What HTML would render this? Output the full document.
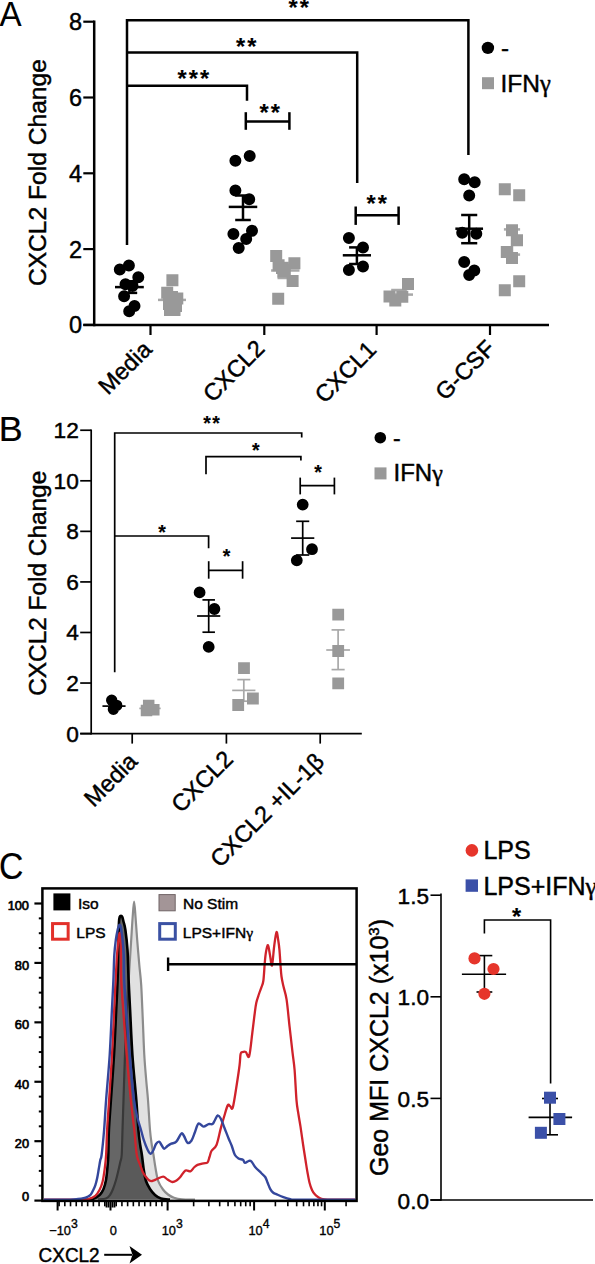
<!DOCTYPE html>
<html><head><meta charset="utf-8"><style>
html,body{margin:0;padding:0;background:#fff;width:595px;height:1264px;overflow:hidden}
svg{display:block}
text{font-family:"Liberation Sans", sans-serif; stroke:currentColor; stroke-width:0.45px}
</style></head><body>
<svg width="595" height="1264" viewBox="0 0 595 1264" font-family="Liberation Sans, sans-serif">
<rect width="595" height="1264" fill="#fff"/>
<text transform="translate(-0.57,25.5) scale(0.96,1)" font-size="34.6" style="stroke-width:0">A</text>
<line x1="94.20" y1="20.45" x2="94.20" y2="326.15" stroke="#000" stroke-width="2.5" stroke-linecap="butt"/>
<line x1="83.30" y1="324.90" x2="94.20" y2="324.90" stroke="#000" stroke-width="2.2" stroke-linecap="butt"/>
<text x="82.00" y="333.30" font-size="23.5" text-anchor="end" fill="#000" >0</text>
<line x1="83.30" y1="249.10" x2="94.20" y2="249.10" stroke="#000" stroke-width="2.2" stroke-linecap="butt"/>
<text x="82.00" y="257.50" font-size="23.5" text-anchor="end" fill="#000" >2</text>
<line x1="83.30" y1="173.30" x2="94.20" y2="173.30" stroke="#000" stroke-width="2.2" stroke-linecap="butt"/>
<text x="82.00" y="181.70" font-size="23.5" text-anchor="end" fill="#000" >4</text>
<line x1="83.30" y1="97.50" x2="94.20" y2="97.50" stroke="#000" stroke-width="2.2" stroke-linecap="butt"/>
<text x="82.00" y="105.90" font-size="23.5" text-anchor="end" fill="#000" >6</text>
<line x1="83.30" y1="21.70" x2="94.20" y2="21.70" stroke="#000" stroke-width="2.2" stroke-linecap="butt"/>
<text x="82.00" y="30.10" font-size="23.5" text-anchor="end" fill="#000" >8</text>
<line x1="83.30" y1="324.90" x2="549.00" y2="324.90" stroke="#000" stroke-width="2.5" stroke-linecap="butt"/>
<line x1="150.50" y1="324.90" x2="150.50" y2="335.00" stroke="#000" stroke-width="2.2" stroke-linecap="butt"/>
<line x1="264.30" y1="324.90" x2="264.30" y2="335.00" stroke="#000" stroke-width="2.2" stroke-linecap="butt"/>
<line x1="376.60" y1="324.90" x2="376.60" y2="335.00" stroke="#000" stroke-width="2.2" stroke-linecap="butt"/>
<line x1="490.00" y1="324.90" x2="490.00" y2="335.00" stroke="#000" stroke-width="2.2" stroke-linecap="butt"/>
<text transform="translate(46.40,172.60) rotate(-90)" font-size="24.6" text-anchor="middle" >CXCL2 Fold Change</text>
<text transform="translate(153.10,350.80) rotate(-45)" font-size="23.4" text-anchor="end" >Media</text>
<text transform="translate(266.00,349.90) rotate(-45)" font-size="23.4" text-anchor="end" >CXCL2</text>
<text transform="translate(377.80,351.00) rotate(-45)" font-size="23.4" text-anchor="end" >CXCL1</text>
<text transform="translate(496.50,350.00) rotate(-45)" font-size="23.4" text-anchor="end" >G-CSF</text>
<polyline points="127.00,245.00 127.00,20.20 468.40,20.20 468.40,155.00" fill="none" stroke="#000" stroke-width="2.5" stroke-linejoin="miter"/>
<polyline points="127.00,52.40 357.20,52.40 357.20,183.00" fill="none" stroke="#000" stroke-width="2.5" stroke-linejoin="miter"/>
<polyline points="127.00,85.70 247.00,85.70 247.00,100.80" fill="none" stroke="#000" stroke-width="2.5" stroke-linejoin="miter"/>
<line x1="245.80" y1="121.50" x2="289.40" y2="121.50" stroke="#000" stroke-width="2.5" stroke-linecap="butt"/>
<line x1="245.80" y1="112.20" x2="245.80" y2="129.80" stroke="#000" stroke-width="2.5" stroke-linecap="butt"/>
<line x1="289.40" y1="112.20" x2="289.40" y2="129.80" stroke="#000" stroke-width="2.5" stroke-linecap="butt"/>
<line x1="355.70" y1="215.30" x2="398.60" y2="215.30" stroke="#000" stroke-width="2.5" stroke-linecap="butt"/>
<line x1="355.70" y1="206.50" x2="355.70" y2="224.90" stroke="#000" stroke-width="2.5" stroke-linecap="butt"/>
<line x1="398.60" y1="206.50" x2="398.60" y2="224.90" stroke="#000" stroke-width="2.5" stroke-linecap="butt"/>
<text x="299.75" y="15.60" font-size="23.5" font-weight="bold" text-anchor="middle" letter-spacing="2.1" style="stroke-width:0.15px">**</text>
<text x="247.35" y="54.90" font-size="23.5" font-weight="bold" text-anchor="middle" letter-spacing="2.1" style="stroke-width:0.15px">**</text>
<text x="194.45" y="87.10" font-size="23.5" font-weight="bold" text-anchor="middle" letter-spacing="2.1" style="stroke-width:0.15px">***</text>
<text x="270.75" y="121.00" font-size="23.5" font-weight="bold" text-anchor="middle" letter-spacing="2.1" style="stroke-width:0.15px">**</text>
<text x="377.65" y="212.30" font-size="23.5" font-weight="bold" text-anchor="middle" letter-spacing="2.1" style="stroke-width:0.15px">**</text>
<line x1="129.40" y1="281.30" x2="129.40" y2="292.90" stroke="#000" stroke-width="2.5" stroke-linecap="butt"/>
<line x1="121.60" y1="281.30" x2="137.20" y2="281.30" stroke="#000" stroke-width="2.5" stroke-linecap="butt"/>
<line x1="121.60" y1="292.90" x2="137.20" y2="292.90" stroke="#000" stroke-width="2.5" stroke-linecap="butt"/>
<line x1="115.00" y1="287.10" x2="143.80" y2="287.10" stroke="#000" stroke-width="2.5" stroke-linecap="butt"/>
<path d="M113.80,269.40a6,6 0 1,0 12,0a6,6 0 1,0 -12,0ZM122.90,265.40a6,6 0 1,0 12,0a6,6 0 1,0 -12,0ZM132.30,277.20a6,6 0 1,0 12,0a6,6 0 1,0 -12,0ZM119.50,284.20a6,6 0 1,0 12,0a6,6 0 1,0 -12,0ZM126.50,286.00a6,6 0 1,0 12,0a6,6 0 1,0 -12,0ZM118.10,296.30a6,6 0 1,0 12,0a6,6 0 1,0 -12,0ZM128.50,306.00a6,6 0 1,0 12,0a6,6 0 1,0 -12,0ZM123.20,311.30a6,6 0 1,0 12,0a6,6 0 1,0 -12,0Z" fill="#000"/>
<line x1="172.00" y1="294.30" x2="172.00" y2="305.50" stroke="#a8a8a8" stroke-width="2.5" stroke-linecap="butt"/>
<line x1="164.20" y1="294.30" x2="179.80" y2="294.30" stroke="#a8a8a8" stroke-width="2.5" stroke-linecap="butt"/>
<line x1="164.20" y1="305.50" x2="179.80" y2="305.50" stroke="#a8a8a8" stroke-width="2.5" stroke-linecap="butt"/>
<line x1="158.00" y1="299.90" x2="186.00" y2="299.90" stroke="#a8a8a8" stroke-width="2.5" stroke-linecap="butt"/>
<path d="M166.40,274.30h12v12h-12ZM161.20,286.70h12v12h-12ZM171.30,292.60h12v12h-12ZM166.00,291.00h12v12h-12ZM163.00,298.00h12v12h-12ZM170.00,300.00h12v12h-12ZM164.00,304.00h12v12h-12ZM168.50,304.00h12v12h-12Z" fill="#999"/>
<line x1="243.00" y1="195.50" x2="243.00" y2="220.00" stroke="#000" stroke-width="2.5" stroke-linecap="butt"/>
<line x1="235.20" y1="195.50" x2="250.80" y2="195.50" stroke="#000" stroke-width="2.5" stroke-linecap="butt"/>
<line x1="235.20" y1="220.00" x2="250.80" y2="220.00" stroke="#000" stroke-width="2.5" stroke-linecap="butt"/>
<line x1="228.75" y1="206.90" x2="257.25" y2="206.90" stroke="#000" stroke-width="2.5" stroke-linecap="butt"/>
<path d="M229.40,160.80a6,6 0 1,0 12,0a6,6 0 1,0 -12,0ZM243.70,156.00a6,6 0 1,0 12,0a6,6 0 1,0 -12,0ZM229.40,190.50a6,6 0 1,0 12,0a6,6 0 1,0 -12,0ZM243.20,199.30a6,6 0 1,0 12,0a6,6 0 1,0 -12,0ZM227.40,233.90a6,6 0 1,0 12,0a6,6 0 1,0 -12,0ZM246.00,230.80a6,6 0 1,0 12,0a6,6 0 1,0 -12,0ZM240.20,238.90a6,6 0 1,0 12,0a6,6 0 1,0 -12,0ZM232.70,248.00a6,6 0 1,0 12,0a6,6 0 1,0 -12,0Z" fill="#000"/>
<line x1="285.30" y1="263.00" x2="285.30" y2="278.00" stroke="#a8a8a8" stroke-width="2.5" stroke-linecap="butt"/>
<line x1="277.50" y1="263.00" x2="293.10" y2="263.00" stroke="#a8a8a8" stroke-width="2.5" stroke-linecap="butt"/>
<line x1="277.50" y1="278.00" x2="293.10" y2="278.00" stroke="#a8a8a8" stroke-width="2.5" stroke-linecap="butt"/>
<line x1="271.10" y1="270.50" x2="299.50" y2="270.50" stroke="#a8a8a8" stroke-width="2.5" stroke-linecap="butt"/>
<path d="M270.20,249.90h12v12h-12ZM288.40,257.20h12v12h-12ZM272.60,259.20h12v12h-12ZM277.30,265.50h12v12h-12ZM286.60,275.10h12v12h-12ZM272.20,292.70h12v12h-12ZM278.80,264.00h12v12h-12ZM276.00,262.00h12v12h-12Z" fill="#999"/>
<line x1="356.90" y1="247.40" x2="356.90" y2="264.00" stroke="#000" stroke-width="2.5" stroke-linecap="butt"/>
<line x1="349.10" y1="247.40" x2="364.70" y2="247.40" stroke="#000" stroke-width="2.5" stroke-linecap="butt"/>
<line x1="349.10" y1="264.00" x2="364.70" y2="264.00" stroke="#000" stroke-width="2.5" stroke-linecap="butt"/>
<line x1="342.80" y1="255.30" x2="371.00" y2="255.30" stroke="#000" stroke-width="2.5" stroke-linecap="butt"/>
<path d="M342.90,237.90a6,6 0 1,0 12,0a6,6 0 1,0 -12,0ZM357.00,247.40a6,6 0 1,0 12,0a6,6 0 1,0 -12,0ZM342.90,270.10a6,6 0 1,0 12,0a6,6 0 1,0 -12,0ZM357.00,266.60a6,6 0 1,0 12,0a6,6 0 1,0 -12,0Z" fill="#000"/>
<line x1="399.00" y1="290.00" x2="399.00" y2="299.00" stroke="#a8a8a8" stroke-width="2.5" stroke-linecap="butt"/>
<line x1="391.20" y1="290.00" x2="406.80" y2="290.00" stroke="#a8a8a8" stroke-width="2.5" stroke-linecap="butt"/>
<line x1="391.20" y1="299.00" x2="406.80" y2="299.00" stroke="#a8a8a8" stroke-width="2.5" stroke-linecap="butt"/>
<line x1="385.00" y1="294.60" x2="413.00" y2="294.60" stroke="#a8a8a8" stroke-width="2.5" stroke-linecap="butt"/>
<path d="M402.00,278.10h12v12h-12ZM383.50,290.50h12v12h-12ZM389.30,294.50h12v12h-12ZM396.30,290.80h12v12h-12Z" fill="#999"/>
<line x1="469.20" y1="215.00" x2="469.20" y2="243.20" stroke="#000" stroke-width="2.5" stroke-linecap="butt"/>
<line x1="461.15" y1="215.00" x2="477.25" y2="215.00" stroke="#000" stroke-width="2.5" stroke-linecap="butt"/>
<line x1="461.15" y1="243.20" x2="477.25" y2="243.20" stroke="#000" stroke-width="2.5" stroke-linecap="butt"/>
<line x1="455.35" y1="228.70" x2="483.05" y2="228.70" stroke="#000" stroke-width="2.5" stroke-linecap="butt"/>
<path d="M458.20,179.20a6,6 0 1,0 12,0a6,6 0 1,0 -12,0ZM468.70,182.30a6,6 0 1,0 12,0a6,6 0 1,0 -12,0ZM463.20,195.40a6,6 0 1,0 12,0a6,6 0 1,0 -12,0ZM456.20,232.70a6,6 0 1,0 12,0a6,6 0 1,0 -12,0ZM470.30,233.70a6,6 0 1,0 12,0a6,6 0 1,0 -12,0ZM458.20,262.00a6,6 0 1,0 12,0a6,6 0 1,0 -12,0ZM468.30,270.60a6,6 0 1,0 12,0a6,6 0 1,0 -12,0ZM463.20,275.00a6,6 0 1,0 12,0a6,6 0 1,0 -12,0Z" fill="#000"/>
<line x1="512.00" y1="229.40" x2="512.00" y2="254.60" stroke="#a8a8a8" stroke-width="2.5" stroke-linecap="butt"/>
<line x1="503.90" y1="229.40" x2="520.10" y2="229.40" stroke="#a8a8a8" stroke-width="2.5" stroke-linecap="butt"/>
<line x1="503.90" y1="254.60" x2="520.10" y2="254.60" stroke="#a8a8a8" stroke-width="2.5" stroke-linecap="butt"/>
<path d="M498.80,183.30h12v12h-12ZM513.20,189.30h12v12h-12ZM506.00,224.20h12v12h-12ZM511.00,234.30h12v12h-12ZM500.80,246.00h12v12h-12ZM506.00,252.10h12v12h-12ZM513.20,275.30h12v12h-12ZM498.80,284.20h12v12h-12Z" fill="#999"/>
<circle cx="487.90" cy="47.90" r="6.2" fill="#000"/>
<text x="501.00" y="56.00" font-size="24" text-anchor="start" fill="#000" >-</text>
<rect x="482.00" y="77.20" width="12" height="12" fill="#999"/>
<text x="500.50" y="92.00" font-size="24.5" text-anchor="start" fill="#000" >IFN<tspan font-family="Liberation Serif">γ</tspan></text>
<text transform="translate(-1.2,441.1) scale(1.01,1)" font-size="35.5" style="stroke-width:0.2px">B</text>
<line x1="91.20" y1="429.44" x2="91.20" y2="734.40" stroke="#000" stroke-width="1.7" stroke-linecap="butt"/>
<line x1="80.20" y1="733.60" x2="91.20" y2="733.60" stroke="#000" stroke-width="1.7" stroke-linecap="butt"/>
<text x="78.80" y="741.50" font-size="22.7" text-anchor="end" fill="#000" >0</text>
<line x1="80.20" y1="683.04" x2="91.20" y2="683.04" stroke="#000" stroke-width="1.7" stroke-linecap="butt"/>
<text x="78.80" y="690.94" font-size="22.7" text-anchor="end" fill="#000" >2</text>
<line x1="80.20" y1="632.48" x2="91.20" y2="632.48" stroke="#000" stroke-width="1.7" stroke-linecap="butt"/>
<text x="78.80" y="640.38" font-size="22.7" text-anchor="end" fill="#000" >4</text>
<line x1="80.20" y1="581.92" x2="91.20" y2="581.92" stroke="#000" stroke-width="1.7" stroke-linecap="butt"/>
<text x="78.80" y="589.82" font-size="22.7" text-anchor="end" fill="#000" >6</text>
<line x1="80.20" y1="531.36" x2="91.20" y2="531.36" stroke="#000" stroke-width="1.7" stroke-linecap="butt"/>
<text x="78.80" y="539.26" font-size="22.7" text-anchor="end" fill="#000" >8</text>
<line x1="80.20" y1="480.80" x2="91.20" y2="480.80" stroke="#000" stroke-width="1.7" stroke-linecap="butt"/>
<text x="78.80" y="488.70" font-size="22.7" text-anchor="end" fill="#000" >10</text>
<line x1="80.20" y1="430.24" x2="91.20" y2="430.24" stroke="#000" stroke-width="1.7" stroke-linecap="butt"/>
<text x="78.80" y="438.14" font-size="22.7" text-anchor="end" fill="#000" >12</text>
<line x1="80.20" y1="733.60" x2="361.80" y2="733.60" stroke="#000" stroke-width="1.7" stroke-linecap="butt"/>
<line x1="132.20" y1="733.60" x2="132.20" y2="743.60" stroke="#000" stroke-width="1.7" stroke-linecap="butt"/>
<line x1="226.40" y1="733.60" x2="226.40" y2="743.60" stroke="#000" stroke-width="1.7" stroke-linecap="butt"/>
<line x1="320.20" y1="733.60" x2="320.20" y2="743.60" stroke="#000" stroke-width="1.7" stroke-linecap="butt"/>
<text transform="translate(45.80,583.30) rotate(-90)" font-size="24.4" text-anchor="middle" >CXCL2 Fold Change</text>
<text transform="translate(138.80,762.90) rotate(-45)" font-size="23.4" text-anchor="end" >Media</text>
<text transform="translate(234.40,760.50) rotate(-45)" font-size="23.4" text-anchor="end" >CXCL2</text>
<text transform="translate(325.50,763.00) rotate(-45)" font-size="23.4" text-anchor="end" >CXCL2 +IL-1β</text>
<polyline points="114.70,672.30 114.70,433.00 301.70,433.00 301.70,437.50" fill="none" stroke="#000" stroke-width="1.7" stroke-linejoin="miter"/>
<polyline points="206.00,474.30 206.00,456.60 300.90,456.60 300.90,460.50" fill="none" stroke="#000" stroke-width="1.7" stroke-linejoin="miter"/>
<polyline points="114.70,536.00 208.60,536.00 208.60,548.30" fill="none" stroke="#000" stroke-width="1.7" stroke-linejoin="miter"/>
<line x1="300.20" y1="485.60" x2="334.40" y2="485.60" stroke="#000" stroke-width="1.7" stroke-linecap="butt"/>
<line x1="300.20" y1="477.60" x2="300.20" y2="494.40" stroke="#000" stroke-width="1.7" stroke-linecap="butt"/>
<line x1="334.40" y1="477.60" x2="334.40" y2="494.40" stroke="#000" stroke-width="1.7" stroke-linecap="butt"/>
<line x1="208.70" y1="570.30" x2="242.60" y2="570.30" stroke="#000" stroke-width="1.7" stroke-linecap="butt"/>
<line x1="208.70" y1="561.20" x2="208.70" y2="578.70" stroke="#000" stroke-width="1.7" stroke-linecap="butt"/>
<line x1="242.60" y1="561.20" x2="242.60" y2="578.70" stroke="#000" stroke-width="1.7" stroke-linecap="butt"/>
<text x="212.25" y="429.89" font-size="19.5" font-weight="bold" text-anchor="middle" letter-spacing="1.5" style="stroke-width:0.15px">**</text>
<text x="255.90" y="456.79" font-size="19.5" font-weight="bold" text-anchor="middle" letter-spacing="0" style="stroke-width:0.15px">*</text>
<text x="318.00" y="478.59" font-size="19.5" font-weight="bold" text-anchor="middle" letter-spacing="0" style="stroke-width:0.15px">*</text>
<text x="162.00" y="539.09" font-size="19.5" font-weight="bold" text-anchor="middle" letter-spacing="0" style="stroke-width:0.15px">*</text>
<text x="226.50" y="562.69" font-size="19.5" font-weight="bold" text-anchor="middle" letter-spacing="0" style="stroke-width:0.15px">*</text>
<line x1="114.00" y1="704.00" x2="114.00" y2="708.00" stroke="#000" stroke-width="1.7" stroke-linecap="butt"/>
<line x1="108.00" y1="704.00" x2="120.00" y2="704.00" stroke="#000" stroke-width="1.7" stroke-linecap="butt"/>
<line x1="108.00" y1="708.00" x2="120.00" y2="708.00" stroke="#000" stroke-width="1.7" stroke-linecap="butt"/>
<line x1="102.45" y1="706.10" x2="125.55" y2="706.10" stroke="#000" stroke-width="1.7" stroke-linecap="butt"/>
<path d="M106.00,700.30a5.7,5.7 0 1,0 11.4,0a5.7,5.7 0 1,0 -11.4,0ZM111.00,705.40a5.7,5.7 0 1,0 11.4,0a5.7,5.7 0 1,0 -11.4,0ZM107.70,709.20a5.7,5.7 0 1,0 11.4,0a5.7,5.7 0 1,0 -11.4,0Z" fill="#000"/>
<line x1="150.00" y1="706.00" x2="150.00" y2="711.00" stroke="#a8a8a8" stroke-width="1.7" stroke-linecap="butt"/>
<line x1="144.00" y1="706.00" x2="156.00" y2="706.00" stroke="#a8a8a8" stroke-width="1.7" stroke-linecap="butt"/>
<line x1="144.00" y1="711.00" x2="156.00" y2="711.00" stroke="#a8a8a8" stroke-width="1.7" stroke-linecap="butt"/>
<line x1="139.30" y1="708.40" x2="160.70" y2="708.40" stroke="#a8a8a8" stroke-width="1.7" stroke-linecap="butt"/>
<path d="M142.95,699.65h11.5v11.5h-11.5ZM148.05,703.95h11.5v11.5h-11.5ZM140.75,704.65h11.5v11.5h-11.5Z" fill="#999"/>
<line x1="208.70" y1="599.90" x2="208.70" y2="632.20" stroke="#000" stroke-width="1.7" stroke-linecap="butt"/>
<line x1="202.45" y1="599.90" x2="214.95" y2="599.90" stroke="#000" stroke-width="1.7" stroke-linecap="butt"/>
<line x1="202.45" y1="632.20" x2="214.95" y2="632.20" stroke="#000" stroke-width="1.7" stroke-linecap="butt"/>
<line x1="197.10" y1="616.00" x2="220.30" y2="616.00" stroke="#000" stroke-width="1.7" stroke-linecap="butt"/>
<path d="M193.70,592.40a5.9,5.9 0 1,0 11.8,0a5.9,5.9 0 1,0 -11.8,0ZM208.50,609.00a5.9,5.9 0 1,0 11.8,0a5.9,5.9 0 1,0 -11.8,0ZM202.80,646.90a5.9,5.9 0 1,0 11.8,0a5.9,5.9 0 1,0 -11.8,0Z" fill="#000"/>
<line x1="243.80" y1="679.60" x2="243.80" y2="701.20" stroke="#a8a8a8" stroke-width="1.7" stroke-linecap="butt"/>
<line x1="237.30" y1="679.60" x2="250.30" y2="679.60" stroke="#a8a8a8" stroke-width="1.7" stroke-linecap="butt"/>
<line x1="237.30" y1="701.20" x2="250.30" y2="701.20" stroke="#a8a8a8" stroke-width="1.7" stroke-linecap="butt"/>
<line x1="232.20" y1="690.40" x2="255.40" y2="690.40" stroke="#a8a8a8" stroke-width="1.7" stroke-linecap="butt"/>
<path d="M238.10,662.30h11.8v11.8h-11.8ZM247.00,692.60h11.8v11.8h-11.8ZM232.30,699.10h11.8v11.8h-11.8Z" fill="#999"/>
<line x1="302.70" y1="521.30" x2="302.70" y2="555.00" stroke="#000" stroke-width="1.7" stroke-linecap="butt"/>
<line x1="296.15" y1="521.30" x2="309.25" y2="521.30" stroke="#000" stroke-width="1.7" stroke-linecap="butt"/>
<line x1="296.15" y1="555.00" x2="309.25" y2="555.00" stroke="#000" stroke-width="1.7" stroke-linecap="butt"/>
<line x1="291.10" y1="538.10" x2="314.30" y2="538.10" stroke="#000" stroke-width="1.7" stroke-linecap="butt"/>
<path d="M296.80,504.60a5.9,5.9 0 1,0 11.8,0a5.9,5.9 0 1,0 -11.8,0ZM306.10,549.20a5.9,5.9 0 1,0 11.8,0a5.9,5.9 0 1,0 -11.8,0ZM290.90,560.30a5.9,5.9 0 1,0 11.8,0a5.9,5.9 0 1,0 -11.8,0Z" fill="#000"/>
<line x1="338.10" y1="629.90" x2="338.10" y2="669.60" stroke="#a8a8a8" stroke-width="1.7" stroke-linecap="butt"/>
<line x1="331.55" y1="629.90" x2="344.65" y2="629.90" stroke="#a8a8a8" stroke-width="1.7" stroke-linecap="butt"/>
<line x1="331.55" y1="669.60" x2="344.65" y2="669.60" stroke="#a8a8a8" stroke-width="1.7" stroke-linecap="butt"/>
<line x1="326.25" y1="650.00" x2="349.95" y2="650.00" stroke="#a8a8a8" stroke-width="1.7" stroke-linecap="butt"/>
<path d="M332.30,608.80h11.8v11.8h-11.8ZM332.30,645.10h11.8v11.8h-11.8ZM332.30,677.40h11.8v11.8h-11.8Z" fill="#999"/>
<circle cx="380.30" cy="437.70" r="5.8" fill="#000"/>
<text x="393.00" y="446.00" font-size="23" text-anchor="start" fill="#000" >-</text>
<rect x="374.50" y="467.40" width="12" height="12" fill="#999"/>
<text x="393.50" y="481.30" font-size="24" text-anchor="start" fill="#000" >IFN<tspan font-family="Liberation Serif">γ</tspan></text>
<text transform="translate(-0.92,879.2) scale(0.913,1)" font-size="37" style="stroke-width:0.2px">C</text>
<path d="M98.00,1199.60 C99.33,1199.42 104.00,1199.27 106.00,1198.50 C108.00,1197.73 108.83,1196.58 110.00,1195.00 C111.17,1193.42 112.00,1191.50 113.00,1189.00 C114.00,1186.50 115.08,1183.17 116.00,1180.00 C116.92,1176.83 117.78,1173.00 118.50,1170.00 C119.22,1167.00 119.77,1164.50 120.30,1162.00 C120.83,1159.50 121.33,1160.33 121.70,1155.00 C122.07,1149.67 122.20,1139.17 122.50,1130.00 C122.80,1120.83 123.12,1111.67 123.50,1100.00 C123.88,1088.33 124.33,1073.33 124.80,1060.00 C125.27,1046.67 125.77,1031.67 126.30,1020.00 C126.83,1008.33 127.45,999.17 128.00,990.00 C128.55,980.83 129.07,973.33 129.60,965.00 C130.13,956.67 130.70,947.83 131.20,940.00 C131.70,932.17 132.12,924.42 132.60,918.00 C133.08,911.58 133.60,901.50 134.10,901.50 C134.60,901.50 135.08,911.58 135.60,918.00 C136.12,924.42 136.58,932.17 137.20,940.00 C137.82,947.83 138.63,957.50 139.30,965.00 C139.97,972.50 140.62,975.83 141.20,985.00 C141.78,994.17 142.28,1008.33 142.80,1020.00 C143.32,1031.67 143.73,1045.00 144.30,1055.00 C144.87,1065.00 145.58,1072.50 146.20,1080.00 C146.82,1087.50 147.37,1091.67 148.00,1100.00 C148.63,1108.33 149.37,1122.50 150.00,1130.00 C150.63,1137.50 151.22,1140.83 151.80,1145.00 C152.38,1149.17 152.88,1151.17 153.50,1155.00 C154.12,1158.83 154.72,1163.67 155.50,1168.00 C156.28,1172.33 156.95,1177.42 158.20,1181.00 C159.45,1184.58 161.37,1187.25 163.00,1189.50 C164.63,1191.75 166.17,1193.12 168.00,1194.50 C169.83,1195.88 171.67,1196.98 174.00,1197.80 C176.33,1198.62 178.50,1199.10 182.00,1199.40 C185.50,1199.70 192.83,1199.57 195.00,1199.60 Z" fill="#e1e1e1" stroke="none"/>
<path d="M98.00,1199.60 C99.33,1199.42 104.00,1199.27 106.00,1198.50 C108.00,1197.73 108.83,1196.58 110.00,1195.00 C111.17,1193.42 112.00,1191.50 113.00,1189.00 C114.00,1186.50 115.08,1183.17 116.00,1180.00 C116.92,1176.83 117.78,1173.00 118.50,1170.00 C119.22,1167.00 119.77,1164.50 120.30,1162.00 C120.83,1159.50 121.33,1160.33 121.70,1155.00 C122.07,1149.67 122.20,1139.17 122.50,1130.00 C122.80,1120.83 123.12,1111.67 123.50,1100.00 C123.88,1088.33 124.33,1073.33 124.80,1060.00 C125.27,1046.67 125.77,1031.67 126.30,1020.00 C126.83,1008.33 127.45,999.17 128.00,990.00 C128.55,980.83 129.07,973.33 129.60,965.00 C130.13,956.67 130.70,947.83 131.20,940.00 C131.70,932.17 132.12,924.42 132.60,918.00 C133.08,911.58 133.60,901.50 134.10,901.50 C134.60,901.50 135.08,911.58 135.60,918.00 C136.12,924.42 136.58,932.17 137.20,940.00 C137.82,947.83 138.63,957.50 139.30,965.00 C139.97,972.50 140.62,975.83 141.20,985.00 C141.78,994.17 142.28,1008.33 142.80,1020.00 C143.32,1031.67 143.73,1045.00 144.30,1055.00 C144.87,1065.00 145.58,1072.50 146.20,1080.00 C146.82,1087.50 147.37,1091.67 148.00,1100.00 C148.63,1108.33 149.37,1122.50 150.00,1130.00 C150.63,1137.50 151.22,1140.83 151.80,1145.00 C152.38,1149.17 152.88,1151.17 153.50,1155.00 C154.12,1158.83 154.72,1163.67 155.50,1168.00 C156.28,1172.33 156.95,1177.42 158.20,1181.00 C159.45,1184.58 161.37,1187.25 163.00,1189.50 C164.63,1191.75 166.17,1193.12 168.00,1194.50 C169.83,1195.88 171.67,1196.98 174.00,1197.80 C176.33,1198.62 178.50,1199.10 182.00,1199.40 C185.50,1199.70 192.83,1199.57 195.00,1199.60" fill="none" stroke="#8c8c8c" stroke-width="2.2"/>
<path d="M84.00,1199.60 C85.00,1199.60 88.00,1199.95 90.00,1199.60 C92.00,1199.25 94.33,1198.32 96.00,1197.50 C97.67,1196.68 98.75,1196.12 100.00,1194.70 C101.25,1193.28 102.52,1191.35 103.50,1189.00 C104.48,1186.65 105.25,1184.10 105.90,1180.60 C106.55,1177.10 107.00,1172.27 107.40,1168.00 C107.80,1163.73 108.05,1161.33 108.30,1155.00 C108.55,1148.67 108.47,1139.17 108.90,1130.00 C109.33,1120.83 110.05,1112.50 110.90,1100.00 C111.75,1087.50 113.12,1070.00 114.00,1055.00 C114.88,1040.00 115.60,1022.50 116.20,1010.00 C116.80,997.50 117.27,989.17 117.60,980.00 C117.93,970.83 118.03,962.50 118.20,955.00 C118.37,947.50 118.47,940.50 118.60,935.00 C118.73,929.50 118.82,925.00 119.00,922.00 C119.18,919.00 119.37,918.03 119.70,917.00 C120.03,915.97 120.57,915.80 121.00,915.80 C121.43,915.80 121.87,915.97 122.30,917.00 C122.73,918.03 123.08,919.83 123.60,922.00 C124.12,924.17 124.75,925.33 125.40,930.00 C126.05,934.67 126.97,941.67 127.50,950.00 C128.03,958.33 128.17,970.00 128.60,980.00 C129.03,990.00 129.47,997.50 130.10,1010.00 C130.73,1022.50 131.37,1040.00 132.40,1055.00 C133.43,1070.00 135.30,1087.50 136.30,1100.00 C137.30,1112.50 137.75,1122.50 138.40,1130.00 C139.05,1137.50 139.62,1140.83 140.20,1145.00 C140.78,1149.17 141.30,1150.83 141.90,1155.00 C142.50,1159.17 143.12,1165.67 143.80,1170.00 C144.48,1174.33 144.97,1177.83 146.00,1181.00 C147.03,1184.17 148.50,1186.67 150.00,1189.00 C151.50,1191.33 153.17,1193.40 155.00,1195.00 C156.83,1196.60 158.50,1197.83 161.00,1198.60 C163.50,1199.37 168.50,1199.43 170.00,1199.60 Z" fill="rgba(0,0,0,0.6)" stroke="none"/>
<path d="M84.00,1199.60 C85.00,1199.60 88.00,1199.95 90.00,1199.60 C92.00,1199.25 94.33,1198.32 96.00,1197.50 C97.67,1196.68 98.75,1196.12 100.00,1194.70 C101.25,1193.28 102.52,1191.35 103.50,1189.00 C104.48,1186.65 105.25,1184.10 105.90,1180.60 C106.55,1177.10 107.00,1172.27 107.40,1168.00 C107.80,1163.73 108.05,1161.33 108.30,1155.00 C108.55,1148.67 108.47,1139.17 108.90,1130.00 C109.33,1120.83 110.05,1112.50 110.90,1100.00 C111.75,1087.50 113.12,1070.00 114.00,1055.00 C114.88,1040.00 115.60,1022.50 116.20,1010.00 C116.80,997.50 117.27,989.17 117.60,980.00 C117.93,970.83 118.03,962.50 118.20,955.00 C118.37,947.50 118.47,940.50 118.60,935.00 C118.73,929.50 118.82,925.00 119.00,922.00 C119.18,919.00 119.37,918.03 119.70,917.00 C120.03,915.97 120.57,915.80 121.00,915.80 C121.43,915.80 121.87,915.97 122.30,917.00 C122.73,918.03 123.08,919.83 123.60,922.00 C124.12,924.17 124.75,925.33 125.40,930.00 C126.05,934.67 126.97,941.67 127.50,950.00 C128.03,958.33 128.17,970.00 128.60,980.00 C129.03,990.00 129.47,997.50 130.10,1010.00 C130.73,1022.50 131.37,1040.00 132.40,1055.00 C133.43,1070.00 135.30,1087.50 136.30,1100.00 C137.30,1112.50 137.75,1122.50 138.40,1130.00 C139.05,1137.50 139.62,1140.83 140.20,1145.00 C140.78,1149.17 141.30,1150.83 141.90,1155.00 C142.50,1159.17 143.12,1165.67 143.80,1170.00 C144.48,1174.33 144.97,1177.83 146.00,1181.00 C147.03,1184.17 148.50,1186.67 150.00,1189.00 C151.50,1191.33 153.17,1193.40 155.00,1195.00 C156.83,1196.60 158.50,1197.83 161.00,1198.60 C163.50,1199.37 168.50,1199.43 170.00,1199.60" fill="none" stroke="#000" stroke-width="2.6"/>
<path d="M44.00,1199.60 C50.00,1199.60 72.67,1199.67 80.00,1199.60 C87.33,1199.53 85.45,1199.82 88.00,1199.20 C90.55,1198.58 93.38,1197.43 95.30,1195.90 C97.22,1194.37 98.30,1192.32 99.50,1190.00 C100.70,1187.68 101.63,1185.53 102.50,1182.00 C103.37,1178.47 104.10,1173.30 104.70,1168.80 C105.30,1164.30 105.70,1161.47 106.10,1155.00 C106.50,1148.53 106.60,1139.17 107.10,1130.00 C107.60,1120.83 108.28,1112.50 109.10,1100.00 C109.92,1087.50 111.15,1070.00 112.00,1055.00 C112.85,1040.00 113.60,1022.50 114.20,1010.00 C114.80,997.50 115.17,988.67 115.60,980.00 C116.03,971.33 116.42,963.83 116.80,958.00 C117.18,952.17 117.57,948.50 117.90,945.00 C118.23,941.50 118.53,939.00 118.80,937.00 C119.07,935.00 119.27,933.17 119.50,933.00 C119.73,932.83 120.00,934.00 120.20,936.00 C120.40,938.00 120.57,941.33 120.70,945.00 C120.83,948.67 120.92,952.17 121.00,958.00 C121.08,963.83 120.83,971.33 121.20,980.00 C121.57,988.67 122.28,997.50 123.20,1010.00 C124.12,1022.50 125.43,1040.00 126.70,1055.00 C127.97,1070.00 129.53,1087.50 130.80,1100.00 C132.07,1112.50 133.30,1120.83 134.30,1130.00 C135.30,1139.17 135.85,1149.25 136.80,1155.00 C137.75,1160.75 138.97,1161.58 140.00,1164.50 C141.03,1167.42 142.00,1170.42 143.00,1172.50 C144.00,1174.58 145.00,1175.72 146.00,1177.00 C147.00,1178.28 147.98,1179.53 149.00,1180.20 C150.02,1180.87 150.75,1181.20 152.10,1181.00 C153.45,1180.80 155.25,1179.73 157.10,1179.00 C158.95,1178.27 161.47,1176.52 163.20,1176.60 C164.93,1176.68 165.98,1178.60 167.50,1179.50 C169.02,1180.40 170.80,1181.83 172.30,1182.00 C173.80,1182.17 175.17,1181.33 176.50,1180.50 C177.83,1179.67 178.82,1178.67 180.30,1177.00 C181.78,1175.33 183.72,1171.45 185.40,1170.50 C187.08,1169.55 188.97,1171.80 190.40,1171.30 C191.83,1170.80 192.82,1168.57 194.00,1167.50 C195.18,1166.43 195.92,1165.60 197.50,1164.90 C199.08,1164.20 201.83,1163.70 203.50,1163.30 C205.17,1162.90 206.50,1163.55 207.50,1162.50 C208.50,1161.45 208.82,1158.95 209.50,1157.00 C210.18,1155.05 210.42,1152.85 211.60,1150.80 C212.78,1148.75 215.08,1148.40 216.60,1144.70 C218.12,1141.00 219.47,1133.22 220.70,1128.60 C221.93,1123.98 222.83,1120.87 224.00,1117.00 C225.17,1113.13 226.70,1107.23 227.70,1105.40 C228.70,1103.57 229.15,1105.67 230.00,1106.00 C230.85,1106.33 231.67,1111.03 232.80,1107.40 C233.93,1103.77 235.67,1091.27 236.80,1084.20 C237.93,1077.13 238.97,1070.03 239.60,1065.00 C240.23,1059.97 240.12,1056.15 240.60,1054.00 C241.08,1051.85 241.63,1052.42 242.50,1052.10 C243.37,1051.78 244.68,1051.43 245.80,1052.10 C246.92,1052.77 248.12,1059.28 249.20,1056.10 C250.28,1052.92 251.42,1039.85 252.30,1033.00 C253.18,1026.15 253.83,1020.05 254.50,1015.00 C255.17,1009.95 255.55,1006.20 256.30,1002.70 C257.05,999.20 258.17,996.52 259.00,994.00 C259.83,991.48 260.57,989.85 261.30,987.60 C262.03,985.35 262.82,984.70 263.40,980.50 C263.98,976.30 264.37,967.15 264.80,962.40 C265.23,957.65 265.47,954.87 266.00,952.00 C266.53,949.13 267.33,944.70 268.00,945.20 C268.67,945.70 269.33,951.63 270.00,955.00 C270.67,958.37 271.30,966.90 272.00,965.40 C272.70,963.90 273.45,951.55 274.20,946.00 C274.95,940.45 275.83,933.10 276.50,932.10 C277.17,931.10 277.70,936.97 278.20,940.00 C278.70,943.03 279.12,946.13 279.50,950.30 C279.88,954.47 280.17,960.63 280.50,965.00 C280.83,969.37 281.00,972.90 281.50,976.50 C282.00,980.10 282.65,982.73 283.50,986.60 C284.35,990.47 285.58,992.98 286.60,999.70 C287.62,1006.42 288.60,1018.00 289.60,1026.90 C290.60,1035.80 291.77,1045.92 292.60,1053.10 C293.43,1060.28 293.95,1062.13 294.60,1070.00 C295.25,1077.87 295.87,1092.97 296.50,1100.30 C297.13,1107.63 297.73,1109.62 298.40,1114.00 C299.07,1118.38 299.73,1121.60 300.50,1126.60 C301.27,1131.60 302.15,1138.30 303.00,1144.00 C303.85,1149.70 304.83,1155.97 305.60,1160.80 C306.37,1165.63 306.93,1169.30 307.60,1173.00 C308.27,1176.70 308.87,1180.17 309.60,1183.00 C310.33,1185.83 311.17,1188.15 312.00,1190.00 C312.83,1191.85 313.60,1192.93 314.60,1194.10 C315.60,1195.27 316.65,1196.15 318.00,1197.00 C319.35,1197.85 320.70,1198.77 322.70,1199.20 C324.70,1199.63 324.62,1199.53 330.00,1199.60 C335.38,1199.67 350.83,1199.60 355.00,1199.60" fill="none" stroke="#d0222b" stroke-width="2.3" stroke-linejoin="round"/>
<path d="M44.00,1199.60 C48.33,1199.60 64.33,1199.70 70.00,1199.60 C75.67,1199.50 75.75,1199.23 78.00,1199.00 C80.25,1198.77 81.92,1198.57 83.50,1198.20 C85.08,1197.83 86.32,1197.38 87.50,1196.80 C88.68,1196.22 89.68,1195.75 90.60,1194.70 C91.52,1193.65 92.22,1192.07 93.00,1190.50 C93.78,1188.93 94.60,1187.38 95.30,1185.30 C96.00,1183.22 96.62,1180.75 97.20,1178.00 C97.78,1175.25 98.28,1171.80 98.80,1168.80 C99.32,1165.80 99.83,1162.30 100.30,1160.00 C100.77,1157.70 100.97,1160.00 101.60,1155.00 C102.23,1150.00 103.35,1139.17 104.10,1130.00 C104.85,1120.83 105.17,1112.50 106.10,1100.00 C107.03,1087.50 108.73,1070.00 109.70,1055.00 C110.67,1040.00 111.28,1022.50 111.90,1010.00 C112.52,997.50 113.00,989.17 113.40,980.00 C113.80,970.83 113.90,961.67 114.30,955.00 C114.70,948.33 115.25,944.17 115.80,940.00 C116.35,935.83 117.10,932.33 117.60,930.00 C118.10,927.67 118.47,926.87 118.80,926.00 C119.13,925.13 119.30,924.80 119.60,924.80 C119.90,924.80 120.27,924.80 120.60,926.00 C120.93,927.20 121.27,929.67 121.60,932.00 C121.93,934.33 122.23,936.17 122.60,940.00 C122.97,943.83 123.53,948.33 123.80,955.00 C124.07,961.67 123.82,970.83 124.20,980.00 C124.58,989.17 125.18,997.50 126.10,1010.00 C127.02,1022.50 128.38,1040.00 129.70,1055.00 C131.02,1070.00 132.70,1089.50 134.00,1100.00 C135.30,1110.50 136.33,1113.00 137.50,1118.00 C138.67,1123.00 139.92,1126.22 141.00,1130.00 C142.08,1133.78 142.92,1137.45 144.00,1140.70 C145.08,1143.95 146.42,1147.32 147.50,1149.50 C148.58,1151.68 149.50,1153.72 150.50,1153.80 C151.50,1153.88 152.58,1151.63 153.50,1150.00 C154.42,1148.37 155.05,1145.38 156.00,1144.00 C156.95,1142.62 158.28,1141.53 159.20,1141.70 C160.12,1141.87 160.67,1143.83 161.50,1145.00 C162.33,1146.17 163.20,1148.53 164.20,1148.70 C165.20,1148.87 166.32,1146.83 167.50,1146.00 C168.68,1145.17 169.83,1144.42 171.30,1143.70 C172.77,1142.98 174.63,1143.38 176.30,1141.70 C177.97,1140.02 180.02,1134.55 181.30,1133.60 C182.58,1132.65 182.98,1134.48 184.00,1136.00 C185.02,1137.52 186.17,1141.92 187.40,1142.70 C188.63,1143.48 190.13,1142.48 191.40,1140.70 C192.67,1138.92 193.82,1134.87 195.00,1132.00 C196.18,1129.13 197.08,1124.40 198.50,1123.50 C199.92,1122.60 201.82,1126.50 203.50,1126.60 C205.18,1126.70 207.08,1124.52 208.60,1124.10 C210.12,1123.68 211.53,1124.78 212.60,1124.10 C213.67,1123.42 214.15,1121.43 215.00,1120.00 C215.85,1118.57 216.75,1115.75 217.70,1115.50 C218.65,1115.25 219.57,1116.42 220.70,1118.50 C221.83,1120.58 223.17,1124.63 224.50,1128.00 C225.83,1131.37 227.48,1135.70 228.70,1138.70 C229.92,1141.70 230.78,1143.32 231.80,1146.00 C232.82,1148.68 233.68,1152.72 234.80,1154.80 C235.92,1156.88 237.15,1157.67 238.50,1158.50 C239.85,1159.33 241.82,1159.07 242.90,1159.80 C243.98,1160.53 244.00,1162.73 245.00,1162.90 C246.00,1163.07 247.82,1161.03 248.90,1160.80 C249.98,1160.57 250.47,1160.48 251.50,1161.50 C252.53,1162.52 253.48,1164.98 255.10,1166.90 C256.72,1168.82 259.52,1171.32 261.20,1173.00 C262.88,1174.68 264.15,1175.42 265.20,1177.00 C266.25,1178.58 266.65,1180.48 267.50,1182.50 C268.35,1184.52 269.38,1187.43 270.30,1189.10 C271.22,1190.77 272.00,1191.67 273.00,1192.50 C274.00,1193.33 274.57,1193.32 276.30,1194.10 C278.03,1194.88 281.05,1196.35 283.40,1197.20 C285.75,1198.05 288.30,1198.80 290.40,1199.20 C292.50,1199.60 285.15,1199.53 296.00,1199.60 C306.85,1199.67 345.58,1199.60 355.50,1199.60" fill="none" stroke="#34479c" stroke-width="2.4" stroke-linejoin="round"/>
<rect x="42.4" y="888.4" width="314.20000000000005" height="312.5000000000001" fill="none" stroke="#000" stroke-width="2.5"/>
<line x1="34.40" y1="1200.60" x2="42.40" y2="1200.60" stroke="#000" stroke-width="2.2" stroke-linecap="butt"/>
<text x="29.00" y="1201.00" font-size="12.8" text-anchor="end" fill="#000" style="stroke-width:0.7px">0</text>
<line x1="38.80" y1="1185.74" x2="42.40" y2="1185.74" stroke="#000" stroke-width="2.0" stroke-linecap="butt"/>
<line x1="38.80" y1="1170.89" x2="42.40" y2="1170.89" stroke="#000" stroke-width="2.0" stroke-linecap="butt"/>
<line x1="38.80" y1="1156.03" x2="42.40" y2="1156.03" stroke="#000" stroke-width="2.0" stroke-linecap="butt"/>
<line x1="34.40" y1="1141.18" x2="42.40" y2="1141.18" stroke="#000" stroke-width="2.2" stroke-linecap="butt"/>
<text x="29.00" y="1148.08" font-size="12.8" text-anchor="end" fill="#000" style="stroke-width:0.7px">20</text>
<line x1="38.80" y1="1126.32" x2="42.40" y2="1126.32" stroke="#000" stroke-width="2.0" stroke-linecap="butt"/>
<line x1="38.80" y1="1111.47" x2="42.40" y2="1111.47" stroke="#000" stroke-width="2.0" stroke-linecap="butt"/>
<line x1="38.80" y1="1096.62" x2="42.40" y2="1096.62" stroke="#000" stroke-width="2.0" stroke-linecap="butt"/>
<line x1="34.40" y1="1081.76" x2="42.40" y2="1081.76" stroke="#000" stroke-width="2.2" stroke-linecap="butt"/>
<text x="29.00" y="1088.66" font-size="12.8" text-anchor="end" fill="#000" style="stroke-width:0.7px">40</text>
<line x1="38.80" y1="1066.90" x2="42.40" y2="1066.90" stroke="#000" stroke-width="2.0" stroke-linecap="butt"/>
<line x1="38.80" y1="1052.05" x2="42.40" y2="1052.05" stroke="#000" stroke-width="2.0" stroke-linecap="butt"/>
<line x1="38.80" y1="1037.19" x2="42.40" y2="1037.19" stroke="#000" stroke-width="2.0" stroke-linecap="butt"/>
<line x1="34.40" y1="1022.34" x2="42.40" y2="1022.34" stroke="#000" stroke-width="2.2" stroke-linecap="butt"/>
<text x="29.00" y="1029.24" font-size="12.8" text-anchor="end" fill="#000" style="stroke-width:0.7px">60</text>
<line x1="38.80" y1="1007.48" x2="42.40" y2="1007.48" stroke="#000" stroke-width="2.0" stroke-linecap="butt"/>
<line x1="38.80" y1="992.63" x2="42.40" y2="992.63" stroke="#000" stroke-width="2.0" stroke-linecap="butt"/>
<line x1="38.80" y1="977.77" x2="42.40" y2="977.77" stroke="#000" stroke-width="2.0" stroke-linecap="butt"/>
<line x1="34.40" y1="962.92" x2="42.40" y2="962.92" stroke="#000" stroke-width="2.2" stroke-linecap="butt"/>
<text x="29.00" y="969.82" font-size="12.8" text-anchor="end" fill="#000" style="stroke-width:0.7px">80</text>
<line x1="38.80" y1="948.06" x2="42.40" y2="948.06" stroke="#000" stroke-width="2.0" stroke-linecap="butt"/>
<line x1="38.80" y1="933.21" x2="42.40" y2="933.21" stroke="#000" stroke-width="2.0" stroke-linecap="butt"/>
<line x1="38.80" y1="918.35" x2="42.40" y2="918.35" stroke="#000" stroke-width="2.0" stroke-linecap="butt"/>
<line x1="34.40" y1="903.50" x2="42.40" y2="903.50" stroke="#000" stroke-width="2.2" stroke-linecap="butt"/>
<text x="29.00" y="910.40" font-size="12.8" text-anchor="end" fill="#000" style="stroke-width:0.7px">100</text>
<line x1="57.60" y1="1200.90" x2="57.60" y2="1210.50" stroke="#000" stroke-width="2.0" stroke-linecap="butt"/>
<line x1="110.50" y1="1200.90" x2="110.50" y2="1210.50" stroke="#000" stroke-width="2.0" stroke-linecap="butt"/>
<line x1="167.60" y1="1200.90" x2="167.60" y2="1210.50" stroke="#000" stroke-width="2.0" stroke-linecap="butt"/>
<line x1="254.10" y1="1200.90" x2="254.10" y2="1210.50" stroke="#000" stroke-width="2.0" stroke-linecap="butt"/>
<line x1="324.80" y1="1200.90" x2="324.80" y2="1210.50" stroke="#000" stroke-width="2.0" stroke-linecap="butt"/>
<line x1="59.11" y1="1200.90" x2="59.11" y2="1206.30" stroke="#000" stroke-width="1.6" stroke-linecap="butt"/>
<line x1="64.82" y1="1200.90" x2="64.82" y2="1206.30" stroke="#000" stroke-width="1.6" stroke-linecap="butt"/>
<line x1="70.53" y1="1200.90" x2="70.53" y2="1206.30" stroke="#000" stroke-width="1.6" stroke-linecap="butt"/>
<line x1="76.24" y1="1200.90" x2="76.24" y2="1206.30" stroke="#000" stroke-width="1.6" stroke-linecap="butt"/>
<line x1="81.95" y1="1200.90" x2="81.95" y2="1206.30" stroke="#000" stroke-width="1.6" stroke-linecap="butt"/>
<line x1="87.66" y1="1200.90" x2="87.66" y2="1206.30" stroke="#000" stroke-width="1.6" stroke-linecap="butt"/>
<line x1="93.37" y1="1200.90" x2="93.37" y2="1206.30" stroke="#000" stroke-width="1.6" stroke-linecap="butt"/>
<line x1="99.08" y1="1200.90" x2="99.08" y2="1206.30" stroke="#000" stroke-width="1.6" stroke-linecap="butt"/>
<line x1="104.79" y1="1200.90" x2="104.79" y2="1206.30" stroke="#000" stroke-width="1.6" stroke-linecap="butt"/>
<line x1="116.21" y1="1200.90" x2="116.21" y2="1206.30" stroke="#000" stroke-width="1.6" stroke-linecap="butt"/>
<line x1="121.92" y1="1200.90" x2="121.92" y2="1206.30" stroke="#000" stroke-width="1.6" stroke-linecap="butt"/>
<line x1="127.63" y1="1200.90" x2="127.63" y2="1206.30" stroke="#000" stroke-width="1.6" stroke-linecap="butt"/>
<line x1="133.34" y1="1200.90" x2="133.34" y2="1206.30" stroke="#000" stroke-width="1.6" stroke-linecap="butt"/>
<line x1="139.05" y1="1200.90" x2="139.05" y2="1206.30" stroke="#000" stroke-width="1.6" stroke-linecap="butt"/>
<line x1="144.76" y1="1200.90" x2="144.76" y2="1206.30" stroke="#000" stroke-width="1.6" stroke-linecap="butt"/>
<line x1="150.47" y1="1200.90" x2="150.47" y2="1206.30" stroke="#000" stroke-width="1.6" stroke-linecap="butt"/>
<line x1="156.18" y1="1200.90" x2="156.18" y2="1206.30" stroke="#000" stroke-width="1.6" stroke-linecap="butt"/>
<line x1="161.89" y1="1200.90" x2="161.89" y2="1206.30" stroke="#000" stroke-width="1.6" stroke-linecap="butt"/>
<line x1="193.64" y1="1200.90" x2="193.64" y2="1206.30" stroke="#000" stroke-width="1.6" stroke-linecap="butt"/>
<line x1="208.87" y1="1200.90" x2="208.87" y2="1206.30" stroke="#000" stroke-width="1.6" stroke-linecap="butt"/>
<line x1="219.68" y1="1200.90" x2="219.68" y2="1206.30" stroke="#000" stroke-width="1.6" stroke-linecap="butt"/>
<line x1="228.06" y1="1200.90" x2="228.06" y2="1206.30" stroke="#000" stroke-width="1.6" stroke-linecap="butt"/>
<line x1="234.91" y1="1200.90" x2="234.91" y2="1206.30" stroke="#000" stroke-width="1.6" stroke-linecap="butt"/>
<line x1="240.70" y1="1200.90" x2="240.70" y2="1206.30" stroke="#000" stroke-width="1.6" stroke-linecap="butt"/>
<line x1="245.72" y1="1200.90" x2="245.72" y2="1206.30" stroke="#000" stroke-width="1.6" stroke-linecap="butt"/>
<line x1="250.14" y1="1200.90" x2="250.14" y2="1206.30" stroke="#000" stroke-width="1.6" stroke-linecap="butt"/>
<line x1="275.38" y1="1200.90" x2="275.38" y2="1206.30" stroke="#000" stroke-width="1.6" stroke-linecap="butt"/>
<line x1="287.83" y1="1200.90" x2="287.83" y2="1206.30" stroke="#000" stroke-width="1.6" stroke-linecap="butt"/>
<line x1="296.67" y1="1200.90" x2="296.67" y2="1206.30" stroke="#000" stroke-width="1.6" stroke-linecap="butt"/>
<line x1="303.52" y1="1200.90" x2="303.52" y2="1206.30" stroke="#000" stroke-width="1.6" stroke-linecap="butt"/>
<line x1="309.12" y1="1200.90" x2="309.12" y2="1206.30" stroke="#000" stroke-width="1.6" stroke-linecap="butt"/>
<line x1="313.85" y1="1200.90" x2="313.85" y2="1206.30" stroke="#000" stroke-width="1.6" stroke-linecap="butt"/>
<line x1="317.95" y1="1200.90" x2="317.95" y2="1206.30" stroke="#000" stroke-width="1.6" stroke-linecap="butt"/>
<line x1="321.56" y1="1200.90" x2="321.56" y2="1206.30" stroke="#000" stroke-width="1.6" stroke-linecap="butt"/>
<line x1="346.08" y1="1200.90" x2="346.08" y2="1206.30" stroke="#000" stroke-width="1.6" stroke-linecap="butt"/>
<line x1="106.50" y1="1200.90" x2="106.50" y2="1207.50" stroke="#000" stroke-width="1.8" stroke-linecap="butt"/>
<line x1="108.50" y1="1200.90" x2="108.50" y2="1207.50" stroke="#000" stroke-width="1.8" stroke-linecap="butt"/>
<line x1="112.50" y1="1200.90" x2="112.50" y2="1207.50" stroke="#000" stroke-width="1.8" stroke-linecap="butt"/>
<line x1="114.50" y1="1200.90" x2="114.50" y2="1207.50" stroke="#000" stroke-width="1.8" stroke-linecap="butt"/>
<text x="63.50" y="1235.40" font-size="12.8" text-anchor="middle" style="stroke-width:0.35px">−10<tspan dy="-7" font-size="12.2">3</tspan></text>
<text x="113.20" y="1235.40" font-size="12.8" text-anchor="middle" fill="#000" style="stroke-width:0.35px">0</text>
<text x="172.20" y="1235.40" font-size="12.8" text-anchor="middle" style="stroke-width:0.35px">10<tspan dy="-7" font-size="12.2">3</tspan></text>
<text x="259.00" y="1235.40" font-size="12.8" text-anchor="middle" style="stroke-width:0.35px">10<tspan dy="-7" font-size="12.2">4</tspan></text>
<text x="329.80" y="1235.40" font-size="12.8" text-anchor="middle" style="stroke-width:0.35px">10<tspan dy="-7" font-size="12.2">5</tspan></text>
<text x="38.6" y="1262.2" font-size="20" textLength="61" lengthAdjust="spacingAndGlyphs">CXCL2</text>
<line x1="104.20" y1="1254.80" x2="132.00" y2="1254.80" stroke="#000" stroke-width="2.0" stroke-linecap="butt"/>
<path d="M129.5,1246 L142,1254.8 L129.5,1263.4 L132.5,1254.8 Z" fill="#000"/>
<line x1="168.10" y1="964.30" x2="356.00" y2="964.30" stroke="#000" stroke-width="2.4" stroke-linecap="butt"/>
<line x1="168.10" y1="957.50" x2="168.10" y2="971.00" stroke="#000" stroke-width="2.4" stroke-linecap="butt"/>
<rect x="53.4" y="893.4" width="17" height="17" fill="#000"/>
<text x="78.00" y="908.90" font-size="15.5" text-anchor="start" fill="#000" >Iso</text>
<rect x="52.55" y="923.6" width="15.6" height="15.6" fill="none" stroke="#e2302a" stroke-width="3"/>
<text x="76.30" y="938.20" font-size="15.5" text-anchor="start" fill="#000" >LPS</text>
<rect x="159" y="894.6" width="16.2" height="16.2" fill="#a39597" stroke="#706466" stroke-width="1"/>
<text x="183.00" y="908.80" font-size="15.5" text-anchor="start" fill="#000" >No Stim</text>
<rect x="159.7" y="923.6" width="15.6" height="15.6" fill="none" stroke="#3b51a3" stroke-width="3"/>
<text x="182.80" y="938.40" font-size="15.5" text-anchor="start" fill="#000" >LPS+IFN<tspan font-family="Liberation Serif">γ</tspan></text>
<line x1="441.00" y1="893.50" x2="441.00" y2="1200.80" stroke="#000" stroke-width="1.6" stroke-linecap="butt"/>
<line x1="430.30" y1="1200.00" x2="593.00" y2="1200.00" stroke="#000" stroke-width="1.6" stroke-linecap="butt"/>
<line x1="430.50" y1="1200.00" x2="441.00" y2="1200.00" stroke="#000" stroke-width="1.6" stroke-linecap="butt"/>
<text x="429.00" y="1208.60" font-size="22.6" text-anchor="end" fill="#000" >0.0</text>
<line x1="430.50" y1="1098.40" x2="441.00" y2="1098.40" stroke="#000" stroke-width="1.6" stroke-linecap="butt"/>
<text x="429.00" y="1107.00" font-size="22.6" text-anchor="end" fill="#000" >0.5</text>
<line x1="430.50" y1="996.80" x2="441.00" y2="996.80" stroke="#000" stroke-width="1.6" stroke-linecap="butt"/>
<text x="429.00" y="1005.40" font-size="22.6" text-anchor="end" fill="#000" >1.0</text>
<line x1="430.50" y1="895.20" x2="441.00" y2="895.20" stroke="#000" stroke-width="1.6" stroke-linecap="butt"/>
<text x="429.00" y="903.80" font-size="22.6" text-anchor="end" fill="#000" >1.5</text>
<text transform="translate(388.3,1047.5) rotate(-90)" font-size="25" text-anchor="middle">Geo MFI CXCL2 (x10<tspan dy="-9" font-size="15">3</tspan><tspan dy="9">)</tspan></text>
<polyline points="484.40,933.50 484.40,920.00 550.60,920.00 550.60,1083.50" fill="none" stroke="#000" stroke-width="1.6" stroke-linejoin="miter"/>
<text x="516.7" y="925.20" font-size="23.5" font-weight="bold" text-anchor="middle" style="stroke-width:0.15px">*</text>
<line x1="484.40" y1="955.60" x2="484.40" y2="992.00" stroke="#000" stroke-width="1.6" stroke-linecap="butt"/>
<line x1="476.50" y1="955.60" x2="492.30" y2="955.60" stroke="#000" stroke-width="1.6" stroke-linecap="butt"/>
<line x1="476.50" y1="992.00" x2="492.30" y2="992.00" stroke="#000" stroke-width="1.6" stroke-linecap="butt"/>
<line x1="461.90" y1="974.20" x2="506.10" y2="974.20" stroke="#000" stroke-width="1.6" stroke-linecap="butt"/>
<circle cx="474.5" cy="958.4" r="6.1" fill="#e6352b"/>
<circle cx="493.5" cy="969.0" r="6.1" fill="#e6352b"/>
<circle cx="484.4" cy="993.8" r="6.1" fill="#e6352b"/>
<line x1="550.00" y1="1098.50" x2="550.00" y2="1134.80" stroke="#000" stroke-width="1.6" stroke-linecap="butt"/>
<line x1="542.00" y1="1098.50" x2="558.00" y2="1098.50" stroke="#000" stroke-width="1.6" stroke-linecap="butt"/>
<line x1="542.00" y1="1134.80" x2="558.00" y2="1134.80" stroke="#000" stroke-width="1.6" stroke-linecap="butt"/>
<line x1="528.60" y1="1117.40" x2="572.10" y2="1117.40" stroke="#000" stroke-width="1.6" stroke-linecap="butt"/>
<rect x="544.0" y="1091.7" width="12" height="12" fill="#3b50a8"/>
<rect x="553.4" y="1113.0" width="12" height="12" fill="#3b50a8"/>
<rect x="534.9" y="1126.8" width="12" height="12" fill="#3b50a8"/>
<circle cx="471.9" cy="850.4" r="6.3" fill="#e6352b"/>
<text x="483.40" y="858.70" font-size="25" text-anchor="start" fill="#000" >LPS</text>
<rect x="465.6" y="879.4" width="12.4" height="12.4" fill="#3b50a8"/>
<text x="483.40" y="894.70" font-size="25" text-anchor="start" fill="#000" >LPS+IFN<tspan font-family="Liberation Serif">γ</tspan></text>
</svg></body></html>
